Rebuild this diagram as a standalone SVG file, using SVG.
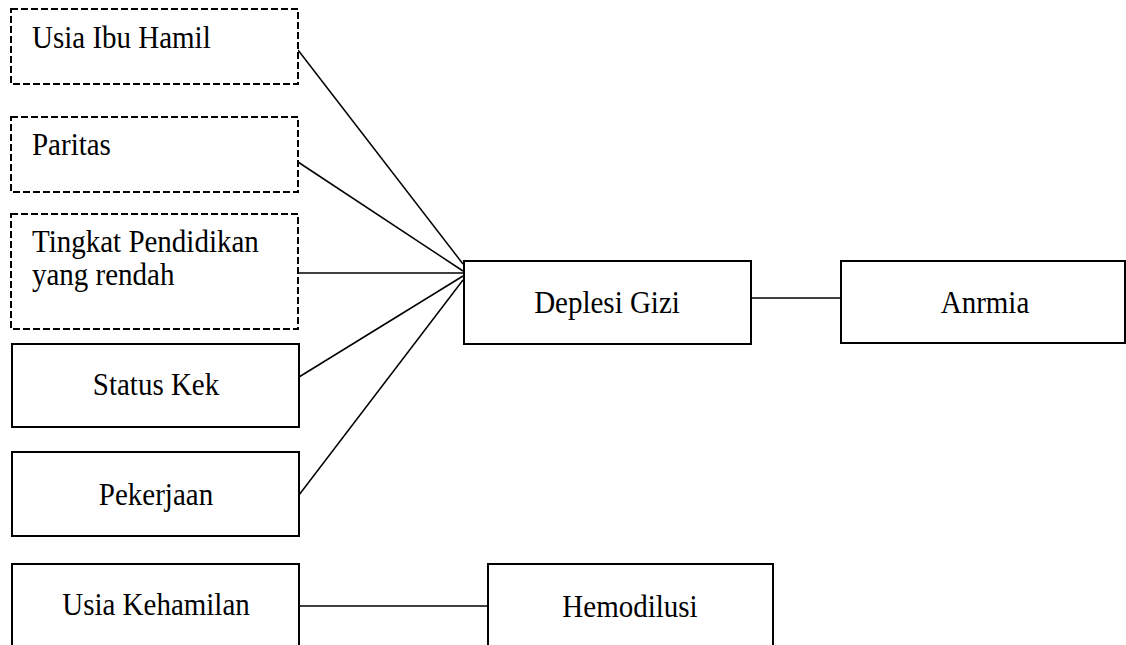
<svg xmlns="http://www.w3.org/2000/svg" width="1126" height="645" viewBox="0 0 1126 645">
<style>
.box{fill:#fff;stroke:#000;stroke-width:2}
.dash{fill:#fff;stroke:#000;stroke-width:2;stroke-dasharray:7 3}
.t{font-family:"Liberation Serif","Times New Roman",serif;font-size:29px;fill:#000}
.c{text-anchor:middle}
.ln{stroke:#000;stroke-width:1.5;fill:none}
</style>
<rect width="1126" height="645" fill="#fff"/>
<g id="connectors">
<line class="ln" x1="298" y1="50" x2="463" y2="264"/>
<line class="ln" x1="298" y1="162" x2="463" y2="271"/>
<line class="ln" x1="298" y1="273" x2="463" y2="273"/>
<line class="ln" x1="299" y1="377" x2="463" y2="276"/>
<line class="ln" x1="299" y1="495" x2="463" y2="280"/>
<line class="ln" x1="751" y1="298" x2="841" y2="298"/>
<line class="ln" x1="299" y1="606" x2="488" y2="606"/>
</g>
<g id="usia-ibu-hamil">
<rect class="dash" x="11" y="9" width="287" height="75"/>
<text class="t" transform="translate(32 48) scale(1 1.1)">Usia Ibu Hamil</text>
</g>
<g id="paritas">
<rect class="dash" x="11" y="117" width="287" height="75"/>
<text class="t" transform="translate(32 155) scale(1 1.1)">Paritas</text>
</g>
<g id="tingkat-pendidikan">
<rect class="dash" x="11" y="214" width="287" height="115"/>
<text class="t" transform="translate(32 252) scale(1 1.1)">Tingkat Pendidikan</text>
<text class="t" transform="translate(32 285) scale(1 1.1)">yang rendah</text>
</g>
<g id="status-kek">
<rect class="box" x="12" y="344" width="287" height="83"/>
<text class="t c" transform="translate(156 395) scale(1 1.1)">Status Kek</text>
</g>
<g id="pekerjaan">
<rect class="box" x="12" y="452" width="287" height="84"/>
<text class="t c" transform="translate(156 505) scale(1 1.1)">Pekerjaan</text>
</g>
<g id="usia-kehamilan">
<rect class="box" x="12" y="564" width="287" height="100"/>
<text class="t c" transform="translate(156 615) scale(1 1.1)">Usia Kehamilan</text>
</g>
<g id="hemodilusi">
<rect class="box" x="488" y="564" width="285" height="100"/>
<text class="t c" transform="translate(630 617) scale(1 1.1)">Hemodilusi</text>
</g>
<g id="deplesi-gizi">
<rect class="box" x="464" y="261" width="287" height="83"/>
<text class="t c" transform="translate(607 313) scale(1 1.1)">Deplesi Gizi</text>
</g>
<g id="anrmia">
<rect class="box" x="841" y="261" width="284" height="82"/>
<text class="t c" transform="translate(985 313) scale(1 1.1)">Anrmia</text>
</g>
</svg>
